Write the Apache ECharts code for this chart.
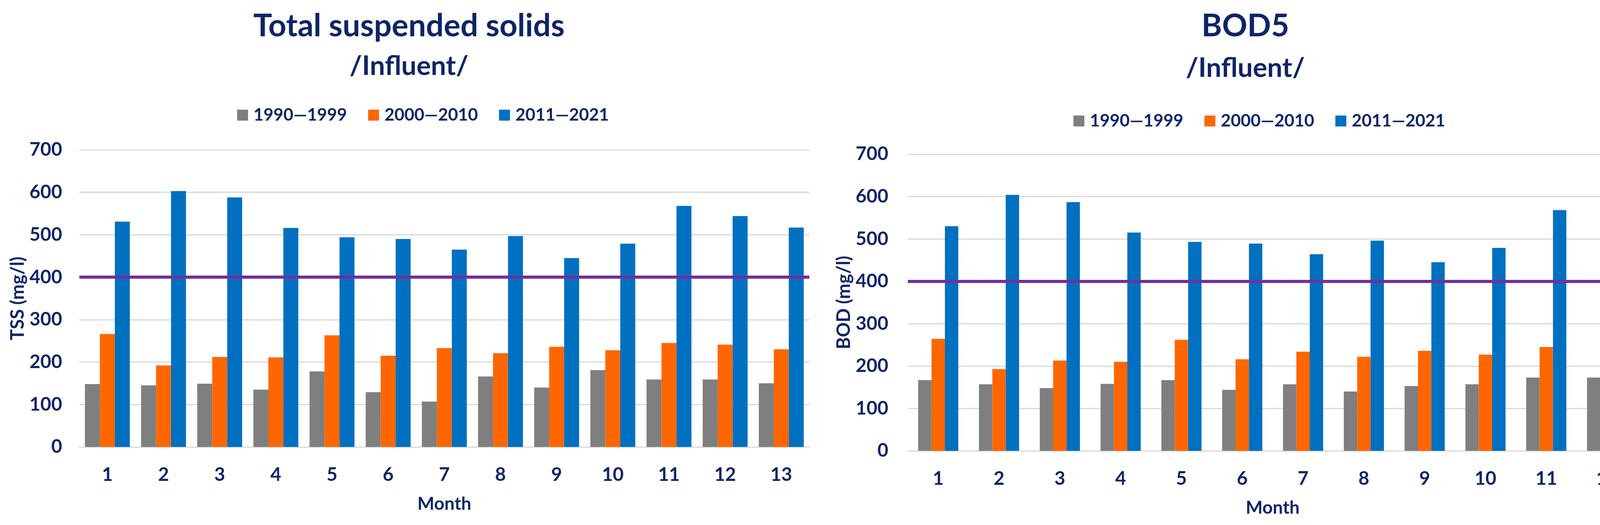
<!DOCTYPE html>
<html>
<head>
<meta charset="utf-8">
<script src="https://cdn.jsdelivr.net/npm/echarts@6/dist/echarts.min.js"></script>
<style>
html,body{margin:0;padding:0;background:#fff;}
#c{width:4236px;height:1345px;}
</style>
</head>
<body>
<div id="c"></div>
<script>
// ---- data ----
const monthsTSS = ['1','2','3','4','5','6','7','8','9','10','11','12','13'];
const monthsBOD = ['1','2','3','4','5','6','7','8','9','10','11','12'];
const periods = ['1990\u20141999','2000\u20142010','2011\u20142021'];
const tss1990 = [148,145,149,135,178,129,107,166,140,181,159,159,150];
const tss2000 = [266,192,212,211,263,215,233,221,236,228,245,241,230];
const tss2011 = [531,603,588,516,494,490,465,497,445,479,568,544,517];
const bod1990 = [167,157,148,158,167,144,157,140,153,157,173,173];
const bod2000 = [264,193,213,210,262,216,234,222,236,227,245,241];
const bod2011 = [530,604,587,515,493,489,464,496,445,479,568,542];
const limitValue = 400;
const yTicks = {min:0, max:700, interval:100};

const FONT = 'Lato';
const NAVY = '#0f2467';
const COLORS = ['#7f7f7f','#ff6600','#0070c0'];

const chart = echarts.init(document.getElementById('c'), null, {renderer:'canvas'});

function titleItems(cx, main, mainTop, subTop){
  return [
    {text: main, left: cx, top: mainTop, textAlign:'center',
     textStyle:{fontFamily:FONT, fontWeight:'bold', fontSize:80, color:NAVY}},
    {text: '/Influent/', left: cx, top: subTop, textAlign:'center',
     textStyle:{fontFamily:FONT, fontWeight:'bold', fontSize:69, color:NAVY}}
  ];
}
function legendItem(left, top){
  return {
    data: periods,
    left: left, top: top,
    icon:'rect', itemWidth:28, itemHeight:28, itemGap:54,
    textStyle:{fontFamily:FONT, fontWeight:'bold', fontSize:44, color:NAVY, padding:[0,0,0,9]},
  };
}
function xAxisItem(idx, cats){
  return {
    type:'category', gridIndex: idx, data: cats,
    name:'Month', nameLocation:'middle', nameGap:123,
    nameTextStyle:{fontFamily:FONT, fontWeight:'bold', fontSize:46, color:NAVY},
    axisLine:{show:true, lineStyle:{color:'#d9d9d9', width:3}},
    axisTick:{show:false},
    axisLabel:{fontFamily:FONT, fontWeight:'bold', fontSize:48, color:NAVY, margin:48}
  };
}
function yAxisItem(idx, name, gap, margin){
  return {
    type:'value', gridIndex: idx, min:yTicks.min, max:yTicks.max, interval:yTicks.interval,
    name: name, nameLocation:'middle', nameGap: gap, nameRotate:90,
    nameTextStyle:{fontFamily:FONT, fontWeight:'bold', fontSize:47, color:NAVY},
    axisLine:{show:false}, axisTick:{show:false},
    axisLabel:{fontFamily:FONT, fontWeight:'bold', fontSize:48, color:NAVY, margin: margin},
    splitLine:{show:true, lineStyle:{color:'#d9d9d9', width:3}}
  };
}
function barSeries(idx, name, data, color, catGap, withLimit){
  const s = {
    type:'bar', name: name, data: data, xAxisIndex: idx, yAxisIndex: idx,
    barGap:'0%', barCategoryGap: catGap,
    itemStyle:{color: color},
    emphasis:{disabled:true},
    animation:false
  };
  if (withLimit){
    s.markLine = {
      silent:true, symbol:['none','none'], label:{show:false},
      lineStyle:{color:'#7030a0', width:8, type:'solid'},
      emphasis:{disabled:true},
      data:[{yAxis: limitValue}]
    };
  }
  return s;
}

chart.setOption({
  animation:false,
  backgroundColor:'#ffffff',
  title: [].concat(titleItems(1042, 'Total suspended solids', 22, 130),
                   titleItems(3183, 'BOD5', 22, 135)),
  legend: [legendItem(602, 268), legendItem(2743, 283)],
  grid: [
    {left:203, right:4236-2072, top:384, bottom:1345-1145, containLabel:false},
    {left:2324, right:4236-4192, top:395, bottom:1345-1155, containLabel:false}
  ],
  xAxis: [xAxisItem(0, monthsTSS), xAxisItem(1, monthsBOD)],
  yAxis: [yAxisItem(0, 'TSS (mg/l)', 134, 44), yAxisItem(1, 'BOD (mg/l)', 140, 50)],
  series: [
    barSeries(0, periods[0], tss1990, COLORS[0], '20%', false),
    barSeries(0, periods[1], tss2000, COLORS[1], '20%', false),
    barSeries(0, periods[2], tss2011, COLORS[2], '20%', true),
    barSeries(1, periods[0], bod1990, COLORS[0], '34%', false),
    barSeries(1, periods[1], bod2000, COLORS[1], '34%', false),
    barSeries(1, periods[2], bod2011, COLORS[2], '34%', true)
  ]
});
</script>
</body>
</html>
